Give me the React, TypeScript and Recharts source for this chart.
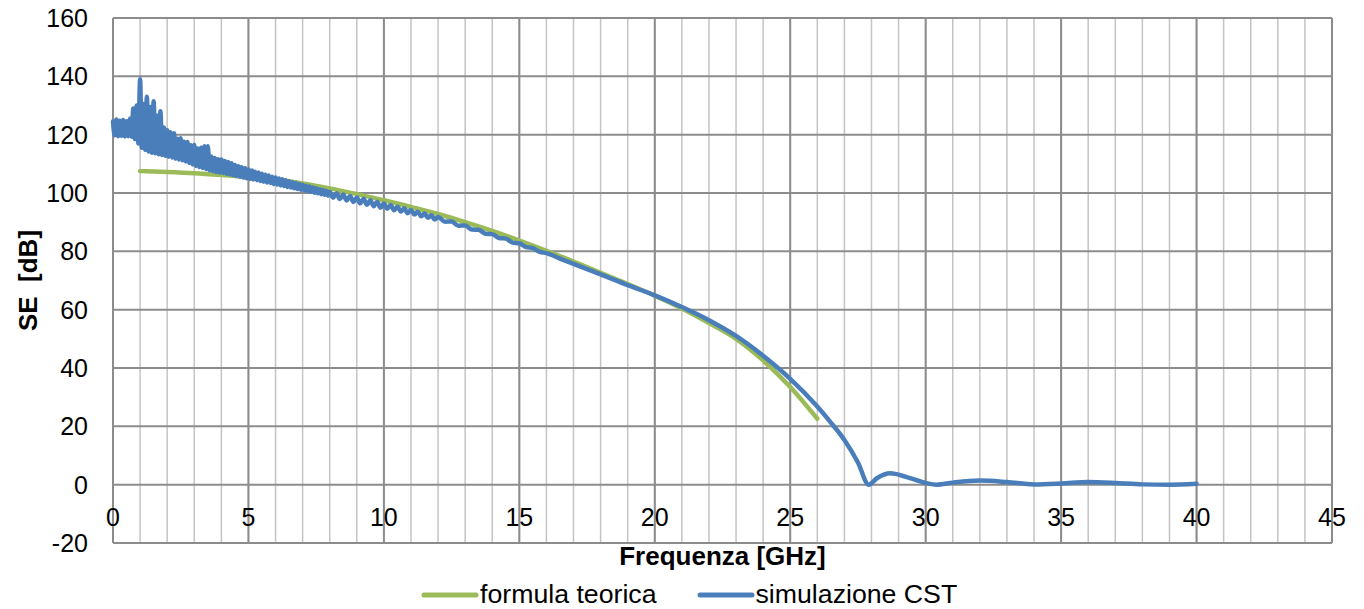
import { LineChart, Line, XAxis, YAxis, CartesianGrid, Legend, Label } from 'recharts';

const FONT = '"Liberation Sans", Arial, sans-serif';

// asse x: tacche principali ogni 5 GHz, griglia secondaria ogni 1 GHz
const xTicks = [0, 5, 10, 15, 20, 25, 30, 35, 40, 45];
const minorXTicks = Array.from({ length: 46 }, (_, i) => i);
const yTicks = [-20, 0, 20, 40, 60, 80, 100, 120, 140, 160];

// formula teorica
const teoFreq = [1, 2, 3, 4, 5, 6, 7, 8, 9, 10, 11, 12, 13, 14, 15, 16, 17, 18, 19, 20, 21, 22, 23, 24, 25, 26];
const teoSE = [
  107.5, 107.2, 106.8, 106.2, 105.5, 104.6, 103.3, 101.6, 99.6, 97.5, 95.2, 92.8, 90.0,
  87.0, 83.7, 80.2, 76.5, 72.6, 68.8, 64.8, 60.4, 55.4, 50.0, 42.6, 33.5, 22.6,
];

// simulazione CST (oscillazioni fitte fino a ~12 GHz)
const cstFreq = [
  0, 0.0625, 0.125, 0.1875, 0.25, 0.3125, 0.375, 0.4375, 0.5, 0.5625, 0.625, 0.6875, 0.75, 0.8125, 0.875, 0.9375,
  1, 1.0625, 1.125, 1.1875, 1.25, 1.3125, 1.375, 1.4375, 1.5, 1.5625, 1.625, 1.6875, 1.75, 1.8125, 1.875, 1.9375,
  2, 2.0625, 2.125, 2.1875, 2.25, 2.3125, 2.375, 2.4375, 2.5, 2.5625, 2.625, 2.6875, 2.75, 2.8125, 2.875, 2.9375,
  3, 3.0625, 3.125, 3.1875, 3.25, 3.3125, 3.375, 3.4375, 3.5, 3.5625, 3.625, 3.6875, 3.75, 3.8125, 3.875, 3.9375,
  4, 4.0625, 4.125, 4.1875, 4.25, 4.3125, 4.375, 4.4375, 4.5, 4.5625, 4.625, 4.6875, 4.75, 4.8125, 4.875, 4.9375,
  5, 5.0625, 5.125, 5.1875, 5.25, 5.3125, 5.375, 5.4375, 5.5, 5.5625, 5.625, 5.6875, 5.75, 5.8125, 5.875, 5.9375,
  6, 6.0625, 6.125, 6.1875, 6.25, 6.3125, 6.375, 6.4375, 6.5, 6.5625, 6.625, 6.6875, 6.75, 6.8125, 6.875, 6.9375,
  7, 7.0625, 7.125, 7.1875, 7.25, 7.3125, 7.375, 7.4375, 7.5, 7.5625, 7.625, 7.6875, 7.75, 7.8125, 7.875, 7.9375,
  8, 8.125, 8.25, 8.375, 8.5, 8.625, 8.75, 8.875, 9, 9.125, 9.25, 9.375, 9.5, 9.625, 9.75, 9.875,
  10, 10.125, 10.25, 10.375, 10.5, 10.625, 10.75, 10.875, 11, 11.125, 11.25, 11.375, 11.5, 11.625, 11.75, 11.875,
  12, 12.25, 12.5, 12.75, 13, 13.25, 13.5, 13.75, 14, 14.25, 14.5, 14.75, 15, 15.25, 15.5, 15.75,
  16, 16.5, 17, 17.5, 18, 19, 20, 21, 22, 23, 24, 25, 26, 26.5, 27, 27.5, 27.9,
  28.2, 28.7, 29.3, 30, 30.4, 31, 32, 33, 34, 35, 36, 37, 38, 39, 40,
];
const cstSE = [
  124.5, 119.8, 125.2, 119.5, 124.8, 119.6, 125, 119.4, 124.6, 119.5, 125.5, 119.3, 129, 118.5, 130, 117,
  139, 115.5, 130.5, 114.8, 133, 114.2, 129.5, 113.8, 131.5, 113.6, 126.5, 113.3, 128, 113, 122.5, 112.8,
  121.5, 112.5, 120.8, 112.2, 120.5, 111.8, 118.6, 111.5, 118.8, 111.2, 117.6, 110.8, 117.5, 110.3, 116.4, 109.8,
  116.5, 109.3, 115.3, 108.9, 115.5, 108.6, 116, 108.2, 116, 107.8, 112.5, 107.5, 112, 107.2, 111.6, 107,
  111.5, 106.9, 111, 106.6, 110.6, 106.4, 110.2, 106.1, 109.6, 105.9, 109.2, 105.6, 108.8, 105.3, 108.5, 105.1,
  108.1, 104.9, 107.7, 104.6, 107.3, 104.4, 107, 104.1, 106.6, 103.9, 106.3, 103.6, 106, 103.4, 105.6, 103.1,
  105.3, 102.9, 105, 102.6, 104.7, 102.4, 104.4, 102.1, 104, 101.9, 103.7, 101.6, 103.4, 101.4, 103.1, 101.1,
  102.8, 100.9, 102.5, 100.6, 102.2, 100.4, 101.9, 100.1, 101.6, 99.9, 101.3, 99.6, 101, 99.4, 100.7, 99.1,
  100.4, 98.4, 99.95, 97.95, 99.5, 97.45, 99.0, 96.95, 98.5, 96.45, 98.0, 95.95, 97.5, 95.45, 97.0, 94.95,
  96.4, 94.6, 95.85, 94.1, 95.3, 93.65, 94.75, 93.1, 94.15, 92.6, 93.6, 92.05, 93.0, 91.5, 92.4, 90.9,
  91.8, 90.15, 90.25, 88.8, 88.85, 87.45, 87.4, 86.0, 85.9, 84.55, 84.35, 83.0, 82.75, 81.45, 81.1, 79.8,
  79.4, 77.5, 75.7, 73.9, 72.1, 68.4, 64.9, 60.9, 56.4, 51.0, 44.2, 36.3, 26.8, 21.3, 15.3, 7.6, 0.0,
  2.2, 3.9, 2.6, 0.6, 0.0, 0.7, 1.4, 0.9, 0.1, 0.4, 0.9, 0.6, 0.1, 0.0, 0.3,
];

const teoData = teoFreq.map((f, i) => ({ f, v: teoSE[i] }));
const cstData = cstFreq.map((f, i) => ({ f, v: cstSE[i] }));

const XTick = (props: any) => {
  const { x, y, payload } = props;
  // le etichette stanno sotto la linea dello zero, non in fondo al grafico
  return (
    <text x={x} y={y - 17} textAnchor="middle" fontSize={25} fontFamily={FONT} fill="#000">
      {payload.value}
    </text>
  );
};

const YTitle = (props: any) => {
  const { viewBox } = props;
  const x = viewBox.x + 28;
  const y = viewBox.y + viewBox.height / 2;
  return (
    <text
      x={x}
      y={y}
      transform={`rotate(-90, ${x}, ${y})`}
      textAnchor="middle"
      dominantBaseline="central"
      fontSize={26}
      fontWeight="bold"
      fontFamily={FONT}
      fill="#000"
      style={{ whiteSpace: 'pre' }}
    >
      SE  [dB]
    </text>
  );
};

const XTitle = (props: any) => {
  const { viewBox } = props;
  return (
    <text
      x={viewBox.x + viewBox.width / 2}
      y={viewBox.y + 22}
      textAnchor="middle"
      fontSize={26}
      fontWeight="bold"
      fontFamily={FONT}
      fill="#000"
    >
      Frequenza [GHz]
    </text>
  );
};

const LegendContent = (props: any) => {
  const { payload } = props;
  return (
    <div style={{ display: 'flex', alignItems: 'center', fontFamily: FONT, fontSize: 26.7, color: '#000' }}>
      {(payload || []).map((item: any) => (
        <div key={item.value} style={{ display: 'flex', alignItems: 'center', marginRight: 40 }}>
          <svg width={58} height={10}>
            <line x1={3} y1={5} x2={55} y2={5} stroke={item.color} strokeWidth={5} strokeLinecap="round" />
          </svg>
          <span style={{ marginLeft: 1 }}>{item.value}</span>
        </div>
      ))}
    </div>
  );
};

export default function App() {
  return (
    <div style={{ position: 'absolute', left: 0, top: 0, background: '#fff' }}>
      <LineChart width={1364} height={609} margin={{ top: 18, right: 32, bottom: 0, left: 0 }}>
        <CartesianGrid horizontal={false} verticalValues={minorXTicks} stroke="#c4c4c4" strokeWidth={1.5} />
        <CartesianGrid stroke="#8c8c8c" strokeWidth={2} />
        <XAxis
          dataKey="f"
          type="number"
          domain={[0, 45]}
          ticks={xTicks}
          height={66}
          axisLine={false}
          tickLine={false}
          tickSize={0}
          tickMargin={0}
          tick={<XTick />}
          interval={0}
        >
          <Label content={<XTitle />} />
        </XAxis>
        <YAxis
          type="number"
          domain={[-20, 160]}
          ticks={yTicks}
          width={113}
          axisLine={false}
          tickLine={false}
          tickSize={0}
          tickMargin={25}
          interval={0}
          tick={{ fontSize: 25, fill: '#000', fontFamily: FONT }}
        >
          <Label content={<YTitle />} />
        </YAxis>
        <Legend
          layout="horizontal"
          verticalAlign="middle"
          align="center"
          content={<LegendContent />}
          wrapperStyle={{ top: 579, left: 421, width: 640 }}
        />
        <Line
          data={teoData}
          dataKey="v"
          name="formula teorica"
          type="monotone"
          stroke="#9bbb59"
          strokeWidth={4.5}
          strokeLinecap="round"
          dot={false}
          activeDot={false}
          isAnimationActive={false}
        />
        <Line
          data={cstData}
          dataKey="v"
          name="simulazione CST"
          type="monotone"
          stroke="#4a7ebb"
          strokeWidth={4.5}
          strokeLinecap="round"
          strokeLinejoin="round"
          dot={false}
          activeDot={false}
          isAnimationActive={false}
        />
      </LineChart>
    </div>
  );
}
